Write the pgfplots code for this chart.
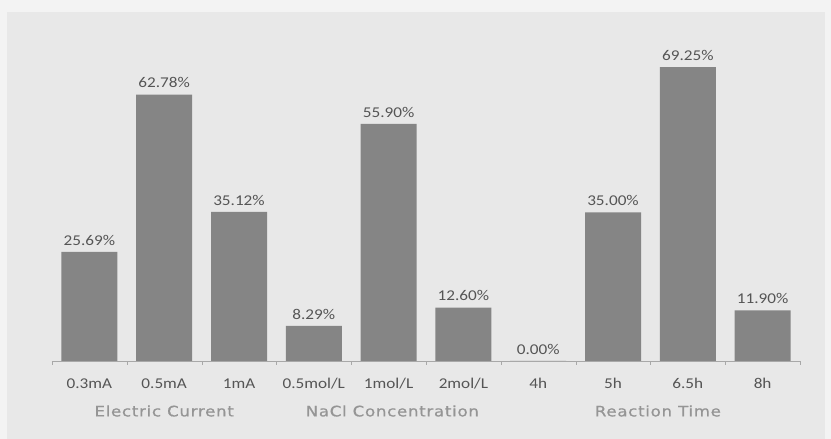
\documentclass[border=0pt]{standalone}
\usepackage{pgfplots}
\pgfplotsset{compat=1.18}
\usepackage{fontspec}
\setmainfont{Carlito}[FakeStretch=1.15]
\newfontfamily\grpfont{DejaVu Sans}[FakeStretch=1.15, LetterSpace=5, FakeBold=0.6]
\definecolor{bgouter}{HTML}{F3F3F3}
\definecolor{bginner}{HTML}{E8E8E8}
\definecolor{barc}{HTML}{858585}
\definecolor{labc}{HTML}{555555}
\definecolor{grpc}{HTML}{959595}
\definecolor{axc}{HTML}{A8A8A8}
\begin{document}
\begin{tikzpicture}[x=1bp,y=1bp]
\fill[bgouter] (-52,-78) rectangle (779,361);
\fill[bginner] (-45,-78) rectangle (773,349);
\begin{axis}[
  at={(0,0)}, anchor=south west,
  scale only axis, width=748bp, height=331bp,
  xmin=-0.5, xmax=9.5, ymin=0, ymax=78,
  axis x line=bottom, axis y line=none,
  axis line style={-, draw=axc},
  ybar, bar width=56bp,
  xtick={0,...,9},
  xticklabels={0.3mA,0.5mA,1mA,0.5mol/L,1mol/L,2mol/L,4h,5h,6.5h,8h},
  major tick length=0pt,
  extra x ticks={-0.5,0.5,...,9.5},
  extra x tick labels={},
  extra x tick style={major tick length=4bp, tick align=outside, tick style={draw=axc}},
  xticklabel style={text=labc, font=\fontsize{15}{18}\selectfont, yshift=-14bp},
  /pgf/number format/assume math mode=true,
  nodes near coords={\pgfmathprintnumber[fixed,fixed zerofill,precision=2,assume math mode=true]{\pgfplotspointmeta}\%},
  every node near coord/.append style={text=labc, font=\fontsize{15}{18}\selectfont, yshift=3bp},
  clip=false,
]
\addplot[fill=barc, draw=none] coordinates {
  (0,25.69) (1,62.78) (2,35.12) (3,8.29) (4,55.90)
  (5,12.60) (6,0.00) (7,35.00) (8,69.25) (9,11.90)
};
\node[text=grpc, font=\grpfont\fontsize{14.5}{17}\selectfont] at (axis cs:1,0) [yshift=-50bp] {Electric Current};
\node[text=grpc, font=\grpfont\fontsize{14.5}{17}\selectfont] at (axis cs:4.05,0) [yshift=-50bp] {NaCl Concentration};
\node[text=grpc, font=\grpfont\fontsize{14.5}{17}\selectfont] at (axis cs:7.6,0) [yshift=-50bp] {Reaction Time};
\end{axis}
\end{tikzpicture}
\end{document}
